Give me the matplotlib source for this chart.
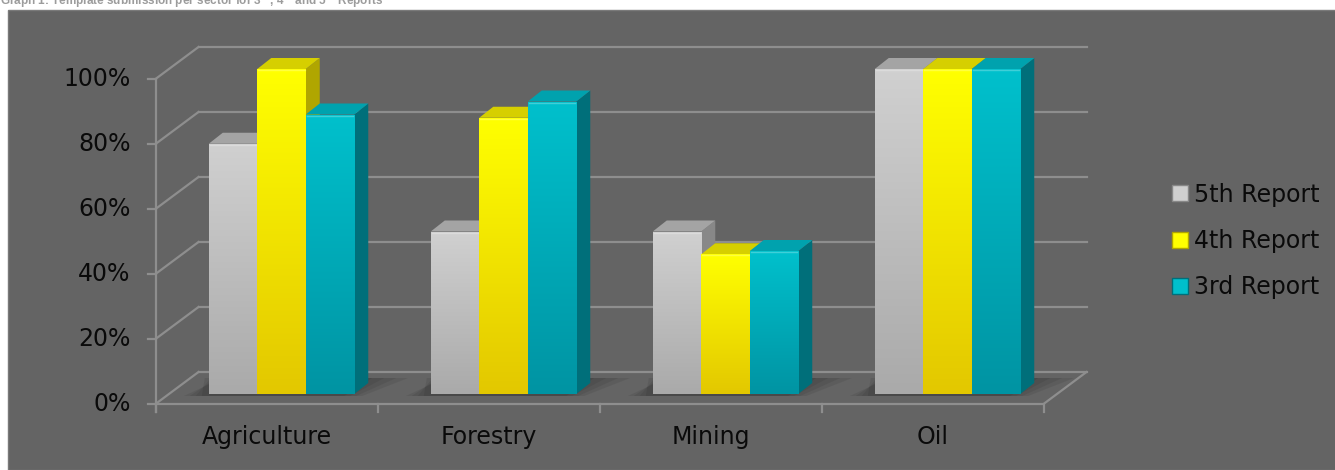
import numpy as np
import matplotlib.pyplot as plt
from matplotlib.patches import Polygon, Rectangle, Patch
from matplotlib.colors import LinearSegmentedColormap

# data
categories = ["Agriculture", "Forestry", "Mining", "Oil"]
series = ["5th Report", "4th Report", "3rd Report"]
report5 = [0.77, 0.50, 0.50, 1.00]
report4 = [1.00, 0.85, 0.43, 1.00]
report3 = [0.86, 0.90, 0.44, 1.00]
yticks = [0, 0.2, 0.4, 0.6, 0.8, 1.0]
ytick_labels = ["0%", "20%", "40%", "60%", "80%", "100%"]

# colours: front top, front bottom, top face, side face
styles = {
    "5th Report": ("#d0d0d0", "#aaaaaa", "#a4a4a4", "#888888"),
    "4th Report": ("#ffff00", "#e3c800", "#d6cf00", "#b0a600"),
    "3rd Report": ("#00c0cc", "#0094a3", "#00a2ae", "#006f7a"),
}

W, H = 1335, 470
PXX = 222.0   # pixels per category
PXY = 325.0   # pixels per 100%
X0 = 266.5    # pixel centre of first category
Y0 = 404.0    # pixel row of 0%
FS = 17
FONT = "DejaVu Sans"

fig = plt.figure(figsize=(W / 100, H / 100), dpi=100)
fig.patch.set_facecolor("white")

ax = fig.add_axes([0, 0, 1, 1])
ax.axis("off")
ax.add_patch(Rectangle((8 / W, 0), 1, 1 - 10 / H, transform=fig.transFigure,
                       facecolor="#646464", edgecolor="#7a7a7a", lw=1, zorder=0))


def px(dx, dy):
    # pixel offset (dy positive = up) -> data offset
    return dx / PXX, dy / PXY


WDX, WDY = px(43, 32)     # wall depth
BOX, BOY = px(15, 10)     # bars sit half way back
BDX, BDY = px(14, 11)     # bar depth
bw = 48.5 / PXX
ncat = len(categories)
left, right = -0.5, ncat - 0.5
gc = "#8e8e8e"
glw = 1.6

# back wall gridlines and left wall diagonals
for v, lab in zip(yticks, ytick_labels):
    ax.plot([left + WDX, right + WDX], [v + WDY, v + WDY], color=gc, lw=glw, zorder=1)
    ax.plot([left, left + WDX], [v, v + WDY], color=gc, lw=glw, zorder=1)
    ax.plot([left - 8 / PXX, left], [v, v], color=gc, lw=glw, zorder=1)
    ax.text(left - 25 / PXX, v, lab, ha="right", va="center",
            fontsize=FS, family=FONT, color="#0a0a0a")

# floor
ax.plot([left, right, right + WDX], [0, 0, WDY], color=gc, lw=glw, zorder=1)
ax.plot([left, left], [-8 / PXY, 1.0], color=gc, lw=glw, zorder=1)
for i in range(ncat + 1):
    ax.plot([left + i, left + i], [0, -8 / PXY], color=gc, lw=glw, zorder=1)
for i, c in enumerate(categories):
    ax.text(i, -(437 - Y0) / PXY, c, ha="center", va="center", fontsize=FS,
            family=FONT, color="#0a0a0a")

values = [report5, report4, report3]

# soft shadows behind each group
for i in range(ncat):
    xs = i - 1.5 * bw + BOX
    xe = i + 1.5 * bw + BOX
    for k in range(4):
        g = k * 6 / PXX
        poly = Polygon([(xs - 25 / PXX + g, BOY - 2 / PXY),
                        (xe + 8 / PXX - g, BOY - 2 / PXY),
                        (xe + BDX + 40 / PXX - 2 * g, BOY + BDY + 5 / PXY),
                        (xs + BDX - g, BOY + BDY + 5 / PXY)],
                       closed=True, facecolor="black", edgecolor="none", alpha=0.07, zorder=2)
        ax.add_patch(poly)

grad = np.linspace(1, 0, 64).reshape(-1, 1)
for i in range(ncat):
    for k, name in enumerate(series):
        top_c, bot_c, top_face, side_face = styles[name]
        v = values[k][i]
        x = i + (k - 1) * bw + BOX - bw / 2
        ax.bar([x], [v], width=bw, bottom=BOY, align="edge",
               color="none", edgecolor="none", zorder=3 + k)
        yb, yt = BOY, BOY + v
        side = Polygon([(x + bw, yb), (x + bw + BDX, yb + BDY),
                        (x + bw + BDX, yt + BDY), (x + bw, yt)],
                       facecolor=side_face, edgecolor="none", zorder=3 + k)
        top = Polygon([(x, yt), (x + bw, yt), (x + bw + BDX, yt + BDY), (x + BDX, yt + BDY)],
                      facecolor=top_face, edgecolor="none", zorder=3 + k)
        ax.add_patch(side)
        ax.add_patch(top)
        cmap = LinearSegmentedColormap.from_list(name, [bot_c, top_c])
        im = ax.imshow(grad, extent=[x, x + bw, yb, yt], cmap=cmap, aspect="auto",
                       interpolation="bilinear", zorder=3 + k)
        im.set_clip_path(Rectangle((x, yb), bw, v, transform=ax.transData))
        # thin highlight along the front top edge
        ax.plot([x + 1 / PXX, x + bw - 1 / PXX], [yt - 1 / PXY, yt - 1 / PXY],
                color="white", alpha=0.25, lw=1, zorder=3 + k)

ax.set_xlim(-X0 / PXX, (W - X0) / PXX)
ax.set_ylim(-(H - Y0) / PXY, Y0 / PXY)

handles = [Patch(facecolor=styles[s][0], edgecolor=styles[s][3], lw=1) for s in series]
fig.legend(handles, series, loc="center left", bbox_to_anchor=(1165 / W, 1 - 241 / H),
           frameon=False, prop={"family": FONT, "size": FS},
           borderpad=0.3, borderaxespad=0,
           handlelength=0.68, handleheight=0.68, handletextpad=0.25, labelspacing=0.95,
           labelcolor="#0a0a0a")

fig.text(0.0, 1 - 5 / H,
         "Graph 1: Template submission per sector for 3$^{rd}$, 4$^{th}$ and 5$^{th}$ Reports",
         ha="left", va="baseline", fontsize=8.5, fontweight="bold",
         family="Liberation Sans", color="#9c9c9c")

fig.savefig("out.png", dpi=100, facecolor=fig.get_facecolor())
